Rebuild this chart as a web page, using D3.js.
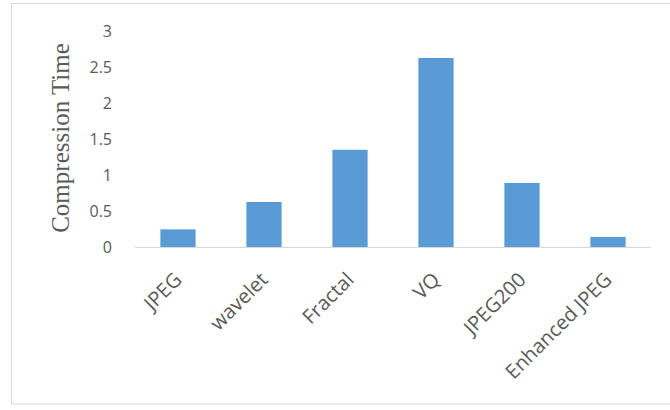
<!DOCTYPE html>
<html>
<head>
<meta charset="utf-8">
<script src="https://cdn.jsdelivr.net/npm/d3@7"></script>
<style>
  html, body { margin: 0; padding: 0; background: #fff; }
  svg { display: block; }
</style>
</head>
<body>
<svg id="chart" width="670" height="410"></svg>
<script>
const categories = ["JPEG", "wavelet", "Fractal", "VQ", "JPEG200", "Enhanced JPEG"];
const compressionTime = [0.245, 0.625, 1.35, 2.625, 0.89, 0.14];
const yTicks = [0, 0.5, 1, 1.5, 2, 2.5, 3];
const yTitle = "Compression Time";

const svg = d3.select("#chart");
const plot = { left: 135, right: 651, top: 31, bottom: 247 };

// outer chart border
svg.append("rect")
  .attr("x", 11.5).attr("y", 3.5)
  .attr("width", 670).attr("height", 400.5)
  .attr("fill", "#fff")
  .attr("stroke", "#d9d9d9").attr("stroke-width", 1);

const x = d3.scaleBand().domain(categories).range([plot.left, plot.right])
  .paddingInner(0.59).paddingOuter(0.295);
const y = d3.scaleLinear().domain([0, 3]).range([plot.bottom, plot.top]);

// bars
svg.append("g").selectAll("rect").data(categories).join("rect")
  .attr("x", d => x(d))
  .attr("width", x.bandwidth())
  .attr("y", (d, i) => y(compressionTime[i]))
  .attr("height", (d, i) => y(0) - y(compressionTime[i]))
  .attr("fill", "#5b9bd5");

// y axis (labels only)
const yAxis = svg.append("g")
  .attr("transform", `translate(112,0)`)
  .call(d3.axisLeft(y).tickValues(yTicks).tickSize(0).tickPadding(0).tickFormat(d3.format("")));
yAxis.select(".domain").remove();
yAxis.selectAll("text")
  .attr("font-family", "'Open Sans', sans-serif")
  .attr("font-size", 16)
  .attr("fill", "#595959");

// x axis
const xAxis = svg.append("g")
  .attr("transform", `translate(0,${plot.bottom})`)
  .call(d3.axisBottom(x).tickSize(0).tickPadding(0));
xAxis.select(".domain")
  .attr("stroke", "#d9d9d9").attr("stroke-width", 1.2)
  .attr("d", `M${plot.left},0.5H${plot.right}`);
xAxis.selectAll(".tick text")
  .attr("font-family", "'Open Sans', sans-serif")
  .attr("font-size", 20)
  .attr("fill", "#595959")
  .attr("text-anchor", "end")
  .attr("dy", null)
  .attr("y", 0)
  .attr("transform", "translate(5,34) rotate(-45)");

// y title
svg.append("text")
  .attr("transform", `translate(69,138) rotate(-90)`)
  .attr("text-anchor", "middle")
  .attr("font-family", "'Liberation Serif', 'Times New Roman', serif")
  .attr("font-size", 25)
  .attr("fill", "#595959")
  .text(yTitle);
</script>
</body>
</html>
